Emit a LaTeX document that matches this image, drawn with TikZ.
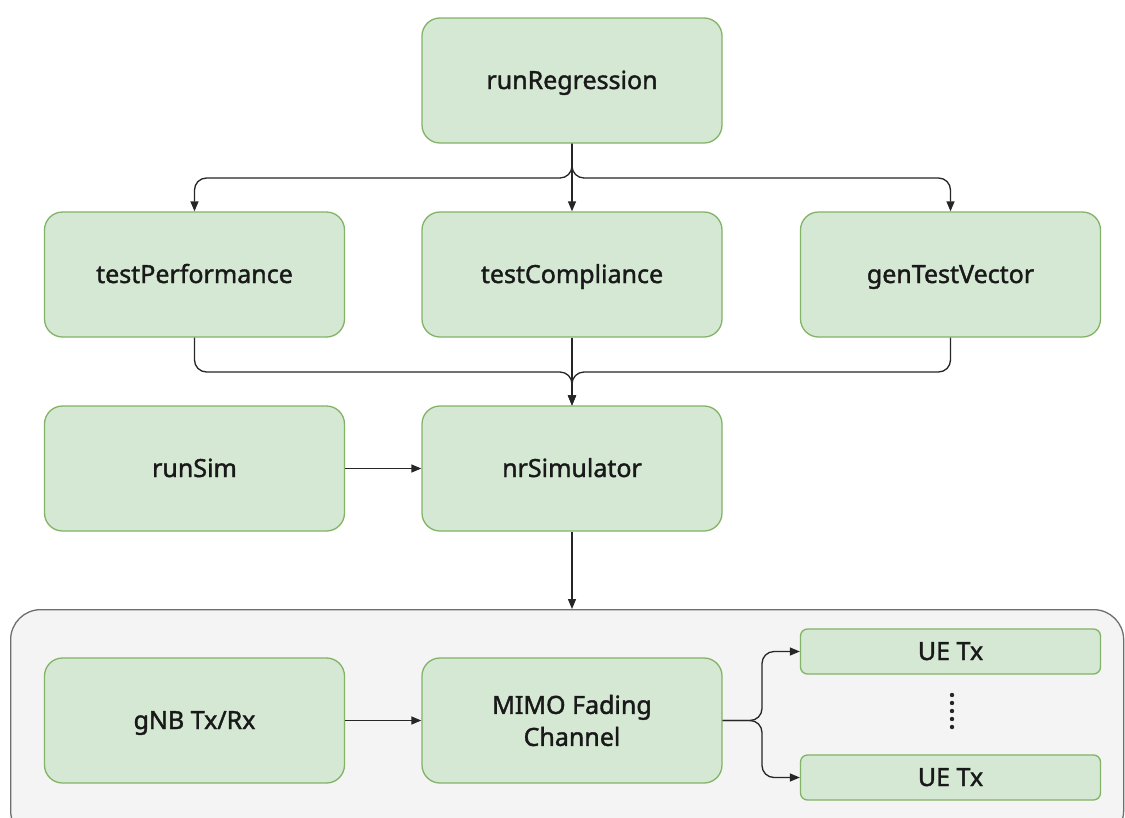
\documentclass[tikz,border=0pt]{standalone}
\usepackage{fontspec}
\setmainfont{Noto Sans}[FakeBold=1.5]
\usetikzlibrary{arrows.meta}
\definecolor{boxfill}{HTML}{D5E8D4}
\definecolor{boxline}{HTML}{82B366}
\definecolor{contfill}{HTML}{F4F4F4}
\definecolor{contline}{HTML}{6E6E6E}
\tikzset{
  blkbase/.style={draw=boxline, fill=boxfill, line width=1.3pt, rounded corners=18pt,
    minimum width=300pt, minimum height=125pt, inner sep=0pt, align=center,
    font=\fontsize{25}{32}\selectfont, text=black!90},
  blk/.style={blkbase, text height=17pt, text depth=0pt},
  uebox/.style={blk, minimum height=45pt, rounded corners=7pt},
  conn/.style={draw=black!85, line width=1.3pt, rounded corners=12pt,
    -{Triangle[length=10pt,width=8pt]}},
}
\begin{document}
\begin{tikzpicture}[x=1pt,y=-1pt]
\clip (0,0) rectangle (1125,817);
\fill[white] (0,0) rectangle (1125,817);
\node[draw=contline, fill=contfill, line width=1.3pt, rounded corners=30pt,
  minimum width=1113pt, minimum height=231pt, inner sep=0pt, anchor=north west] (cont) at (10,609) {};
\node[blk] (rr) at (572,80.5) {runRegression};
\node[blk] (tp) at (194.5,274.5) {testPerformance};
\node[blk] (tc) at (572,274.5) {testCompliance};
\node[blk] (gt) at (950.5,274.5) {genTestVector};
\node[blk] (rs) at (194.5,468.5) {runSim};
\node[blk] (nr) at (572,468.5) {nrSimulator};
\node[blk] (gnb) at (194.5,720.5) {gNB Tx/Rx};
\node[blkbase] (mimo) at (572,720.5) {MIMO Fading\\Channel};
\node[uebox] (ue1) at (950.5,651.5) {UE Tx};
\node[uebox] (ue2) at (950.5,777.5) {UE Tx};
\foreach \yy in {695,703,711,719,727} \fill[black!85] (952,\yy) circle (2.2pt);
\coordinate (top) at (572,178);
\coordinate (bot) at (572,372);
\coordinate (fork) at (762,720.5);
% fan-out
\draw[conn] (rr.south) -- (top) -| (tp.north);
\draw[conn] (rr.south) -- (tc.north);
\draw[conn] (rr.south) -- (top) -| (gt.north);
% fan-in
\draw[conn] (tp.south) |- (bot) -- (nr.north);
\draw[conn] (tc.south) -- (nr.north);
\draw[conn] (gt.south) |- (bot) -- (nr.north);
\draw[conn] (rs.east) -- (nr.west);
\draw[conn] (nr.south) -- (cont.north -| nr.south);
\draw[conn] (gnb.east) -- (mimo.west);
\draw[conn] (mimo.east) -- (fork) |- (ue1.west);
\draw[conn] (mimo.east) -- (fork) |- (ue2.west);
\end{tikzpicture}
\end{document}
